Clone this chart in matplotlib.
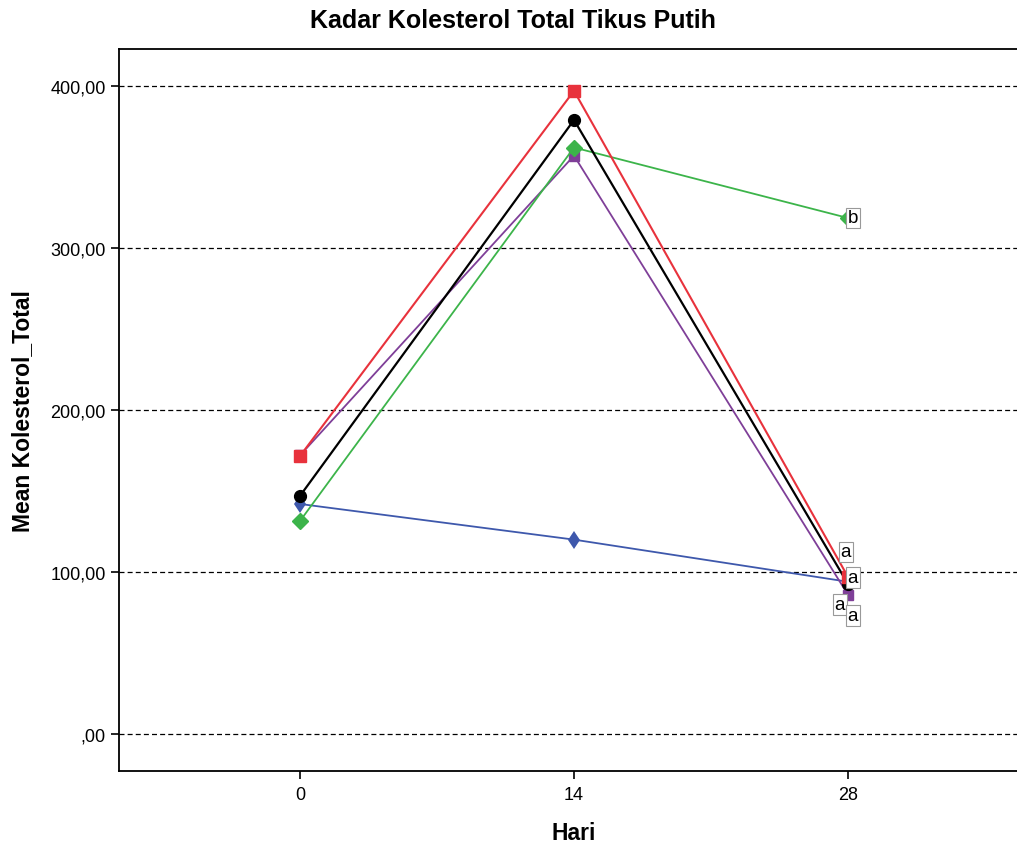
import matplotlib
matplotlib.use("Agg")
import matplotlib.pyplot as plt

plt.rcParams['font.family'] = ['Liberation Sans', 'DejaVu Sans']

days = [0, 14, 28]
series_names = ["red", "black", "green", "purple", "blue"]
red_vals = [171.6, 397.0, 97.0]
black_vals = [147.0, 379.0, 92.6]
green_vals = [131.5, 362.0, 318.5]
purple_vals = [172.0, 357.0, 86.0]
blue_vals = [142.0, 120.0, 94.0]

y_ticks = [0, 100, 200, 300, 400]
y_tick_labels = [",00", "100,00", "200,00", "300,00", "400,00"]
x_tick_labels = ["0", "14", "28"]

# letter labels at day 28
red_lab, black_lab, green_lab, purple_lab, blue_lab = "a", "a", "b", "a", "a"

fig = plt.figure(figsize=(10.17, 8.45), dpi=100)
ax = fig.add_axes([119/1017, 1 - 772/845, (1029 - 119)/1017, (772 - 50)/845])

styles = [
    (blue_vals, '#3e58ac', 'd', 9.5, 1.3, dict(markeredgewidth=0)),
    (purple_vals, '#7f3f98', 's', 7.5, 1.3, {}),
    (green_vals, '#3cb44a', 'D', 8, 1.3, {}),
    (black_vals, '#000000', 'o', 8.5, 1.6, {}),
    (red_vals, '#e8323c', 's', 8.5, 1.5, {}),
]
for vals, c, m, ms, lw, kw in styles:
    ax.plot(days, vals, color=c, marker=m, markersize=ms, linewidth=lw,
            markeredgecolor=c, zorder=3, **kw)

for yt in y_ticks:
    ax.axhline(yt, color='black', linestyle=(0, (4, 2.5)), linewidth=0.9, zorder=1)

# annotation boxes (offsets in points)
box = dict(boxstyle='square,pad=0.1', facecolor='white', edgecolor='#999999', linewidth=0.8)
ann = [
    (red_vals[2], red_lab, (-1.5, 18)),
    (blue_vals[2], blue_lab, (3.5, 3)),
    (black_vals[2], black_lab, (-6, -15)),
    (purple_vals[2], purple_lab, (3.5, -15)),
    (green_vals[2], green_lab, (3.5, 0)),
]
for v, lab, off in ann:
    ax.annotate(lab, (28, v), xytext=off, textcoords='offset points',
                ha='center', va='center', fontsize=13.5, bbox=box, zorder=4)

ax.set_xlim(-9.25, 37.25)
ax.set_ylim(-22.8, 422.8)
ax.set_xticks(days)
ax.set_xticklabels(x_tick_labels)
ax.set_yticks(y_ticks)
ax.set_yticklabels(y_tick_labels)
ax.tick_params(axis='both', direction='out', length=6, width=1.2, labelsize=13, color='black')
ax.tick_params(axis='x', pad=4.5)
for s in ['left', 'bottom', 'top', 'right']:
    ax.spines[s].set_linewidth(1.3)

ax.set_xlabel("Hari", fontsize=16.5, fontweight='bold', labelpad=13)
ax.set_ylabel("Mean Kolesterol_Total", fontsize=16.5, fontweight='bold', labelpad=12)
fig.text(513/1017, 1 - 21/845, "Kadar Kolesterol Total Tikus Putih", ha='center', va='center',
         fontsize=18, fontweight='bold')

fig.savefig("out.png", dpi=100)
